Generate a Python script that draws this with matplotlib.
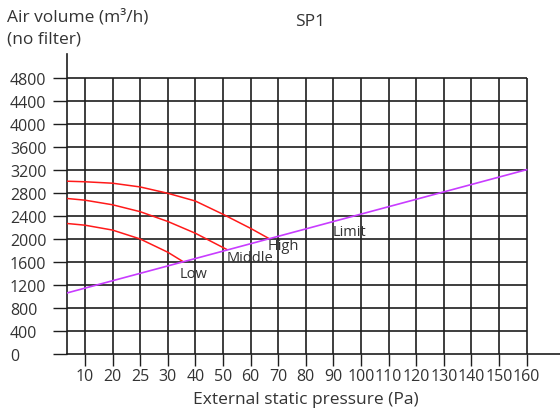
import numpy as np
import matplotlib
matplotlib.use("Agg")
import matplotlib.pyplot as plt

plt.rcParams['font.family'] = ['Open Sans', 'DejaVu Sans']

# category axis: pressures, equally spaced
pressure_labels = ['10', '20', '25', '30', '40', '50', '60', '70', '80', '90',
                   '100', '110', '120', '130', '140', '150', '160']
volume_ticks = [0, 400, 800, 1200, 1600, 2000, 2400, 2800, 3200, 3600, 4000, 4400, 4800]

# curve points (x = position on the category axis, y = m3/h)
high_x = [-0.66, 0, 1, 2, 3, 4, 5, 6, 6.66]
high_y = [3000, 2990, 2965, 2900, 2790, 2655, 2425, 2180, 2005]
mid_x = [-0.66, 0, 1, 2, 3, 4, 5.13]
mid_y = [2700, 2670, 2590, 2470, 2300, 2095, 1815]
low_x = [-0.66, 0, 1, 2, 3, 3.56]
low_y = [2265, 2235, 2150, 1995, 1765, 1600]
limit_x = [-0.66, 16]
limit_y = [1055, 3200]

labels = ['Low', 'Middle', 'High', 'Limit']
label_x = [3.44, 5.14, 6.63, 8.99]
label_y = [1390, 1680, 1890, 2120]

W, H = 560, 414
fig = plt.figure(figsize=(W / 100, H / 100), dpi=100)
ax = fig.add_axes([66.7 / W, (H - 354.7) / H, (W - 66.7) / W, (354.7 - 55) / H])

n = len(pressure_labels)
xs = np.arange(n)
grid_c = '#1e1e1e'
ax.vlines(xs, 0, volume_ticks[-1], color=grid_c, lw=1.2, zorder=1)
ax.hlines(volume_ticks[1:], -0.66, n - 1, color=grid_c, lw=1.2, zorder=1)

ax.plot(high_x, high_y, color='#ff1a1a', lw=1.1, zorder=3)
ax.plot(mid_x, mid_y, color='#ff1a1a', lw=1.1, zorder=3)
ax.plot(low_x, low_y, color='#ff1a1a', lw=1.1, zorder=3)
ax.plot(limit_x, limit_y, color='#c83cff', lw=1.2, zorder=4)

for t, x, y in zip(labels, label_x, label_y):
    ax.text(x, y, t, ha='left', va='center', fontsize=10.5, color='#333333', zorder=5)

ax.set_xlim(-0.66, 17.21)
ax.set_ylim(0, 5212)
ax.set_xticks(xs)
ax.set_xticklabels(pressure_labels)
ax.set_yticks(volume_ticks)
ax.set_yticklabels([str(v) for v in volume_ticks])
for lab in ax.get_yticklabels():
    lab.set_horizontalalignment('left')

ax.tick_params(axis='x', length=8.6, width=1.0, color=grid_c, pad=2,
               labelsize=11.5, labelcolor='#333333')
ax.tick_params(axis='y', length=9.9, width=1.0, color=grid_c, pad=31,
               labelsize=11.5, labelcolor='#333333')

for s in ['top', 'right']:
    ax.spines[s].set_visible(False)
for s in ['left', 'bottom']:
    ax.spines[s].set_color(grid_c)
    ax.spines[s].set_linewidth(1.2)

fig.text(310 / W, 1 - 22 / H, 'SP1', ha='center', va='center', fontsize=12.5, color='#333333')
fig.text(7 / W, 1 - 17 / H, 'Air volume (m³/h)', ha='left', va='center', fontsize=12.5, color='#333333')
fig.text(7 / W, 1 - 40 / H, '(no filter)', ha='left', va='center', fontsize=12.5, color='#333333')
fig.text(306 / W, 1 - 400 / H, 'External static pressure (Pa)', ha='center', va='center',
         fontsize=12.5, color='#333333')

fig.savefig('out.png', dpi=100)
